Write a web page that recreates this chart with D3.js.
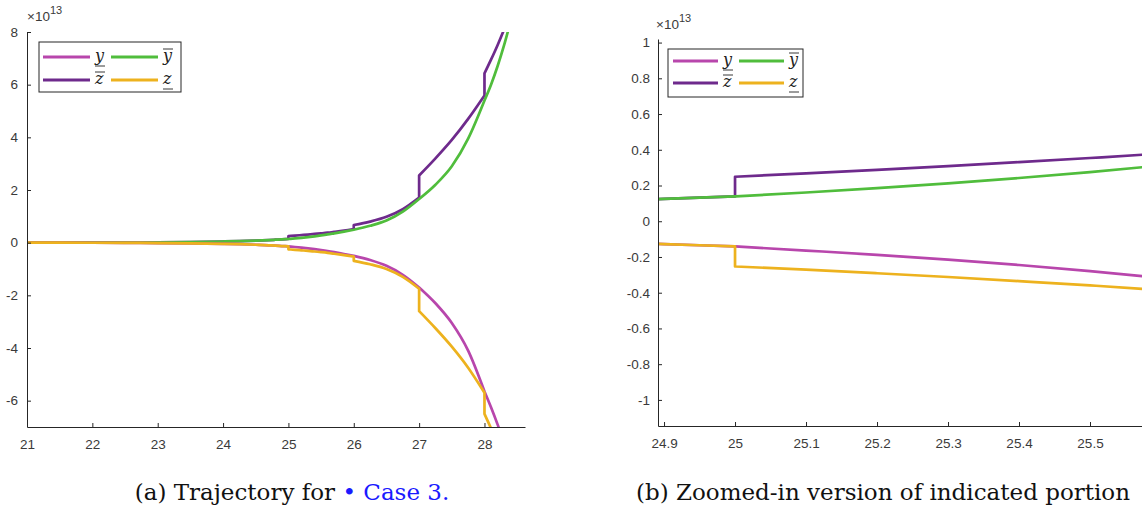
<!DOCTYPE html>
<html>
<head>
<meta charset="utf-8">
<title>trajectory_case3</title>
<script src="https://cdn.jsdelivr.net/npm/d3@7/dist/d3.min.js"></script>
<style>
  body { margin:0; background:#fff; }
  .tick text { font-family: "Liberation Sans", Arial, sans-serif; font-size: 13.5px; fill: #3a3a3a; }
  .domain, .tick line { stroke: #262626; }
  .curve { fill: none; stroke-width: 2.7px; stroke-linejoin: round; }
  .leg_box { fill: #fff; stroke: #262626; stroke-width: 1px; }
  .leg_line { stroke-width: 2.8px; }
  .leg_text { font-family: "DejaVu Serif", serif; font-style: italic; font-size: 16px; fill: #222; }
  .leg_bar { stroke: #222; stroke-width: 0.9px; }
  .expo { font-family: "Liberation Sans", Arial, sans-serif; font-size: 13.5px; fill: #3a3a3a; }
  .caption { font-family: "DejaVu Serif", serif; font-size: 23px; fill: #111; }
</style>
</head>
<body>
<div id="chart"></div>
<script>
// data, units of 1e13 (a repeated time marks a jump)
var time  = [21,21.5,22,22.5,23,23.5,24,24.25,24.5,24.7,24.8,24.9,25,25,25.1,25.2,25.3,25.4,25.5,25.6,25.7,25.85,26,26,26.25,26.5,26.75,27,27,27.25,27.5,27.75,28,28,28.1,28.2,28.3,28.4,28.5];
var yUp   = [0.001,0.002,0.004,0.008,0.014,0.025,0.045,0.059,0.08,0.1,0.112,0.125,0.139,0.139,0.161,0.185,0.212,0.242,0.275,0.312,0.355,0.42,0.49,0.49,0.64,0.84,1.18,1.66,1.66,2.2,2.9,3.95,5.4,5.4,6.0,6.7,7.5,8.4,9.3];
var zUp   = [0.001,0.002,0.004,0.008,0.014,0.025,0.045,0.059,0.08,0.1,0.112,0.125,0.139,0.249,0.268,0.288,0.309,0.331,0.354,0.379,0.41,0.46,0.52,0.67,0.8,0.98,1.27,1.71,2.55,3.2,3.9,4.7,5.59,6.43,6.95,7.5,8.1,8.8,9.6];
var yLow  = [-0.001,-0.002,-0.004,-0.008,-0.014,-0.025,-0.045,-0.059,-0.08,-0.1,-0.115,-0.128,-0.141,-0.141,-0.164,-0.188,-0.215,-0.245,-0.279,-0.317,-0.36,-0.43,-0.5,-0.5,-0.66,-0.88,-1.22,-1.7,-1.7,-2.3,-3.05,-4.1,-5.65,-5.65,-6.25,-6.9,-7.6,-8.4,-9.3];
var zLow  = [-0.001,-0.002,-0.004,-0.008,-0.014,-0.025,-0.045,-0.059,-0.08,-0.1,-0.115,-0.128,-0.141,-0.253,-0.271,-0.291,-0.312,-0.335,-0.359,-0.386,-0.42,-0.475,-0.53,-0.69,-0.82,-1.0,-1.3,-1.75,-2.6,-3.25,-3.95,-4.75,-5.7,-6.5,-7.05,-7.6,-8.2,-8.8,-9.5];

var ticksA_x = [21,22,23,24,25,26,27,28];
var ticksA_y = [-6,-4,-2,0,2,4,6,8];
var ticksB_x = [24.9,25,25.1,25.2,25.3,25.4,25.5];
var ticksB_y = [-1,-0.8,-0.6,-0.4,-0.2,0,0.2,0.4,0.6,0.8,1];

// draw order: zbar, ybar, y_, z_
var series = [
  {name:"zUp",  vals:zUp,  color:"#6E2A8C"},
  {name:"yUp",  vals:yUp,  color:"#50BD3C"},
  {name:"yLow", vals:yLow, color:"#B846AC"},
  {name:"zLow", vals:zLow, color:"#EDB21E"}
];
// legend: row-wise, 2 columns
var legendItems = [
  {name:"yLow", letter:"y", mark:"under"},
  {name:"yUp",  letter:"y", mark:"over"},
  {name:"zUp",  letter:"z", mark:"over"},
  {name:"zLow", letter:"z", mark:"under"}
];

var width = 1142, height = 512;
var svg = d3.select("#chart").append("svg")
  .attr("width", width).attr("height", height);

var panels = [
  {id:"a", xd:[21,28.62], xr:[27,525], yd:[-7,8], yr:[427,32], tx:ticksA_x, ty:ticksA_y, ypad:9,
   expo:[27,21], leg:{x:39,y:42,w:142,h:50,row:[57,80],col:[43,111],len:47}},
  {id:"b", xd:[24.8915,25.65], xr:[658,1196.5], yd:[-1.146,1.02], yr:[426,39], tx:ticksB_x, ty:ticksB_y, ypad:8,
   expo:[656,29], leg:{x:668,y:49,w:135,h:48,row:[61,83],col:[673,739],len:45}}
];

function fmt(d){ return String(+d.toFixed(1)); }

// split a series into smooth runs at the jump times
function runs(vals){
  var pts = d3.zip(time, vals), out = [[pts[0]]];
  for (var i = 1; i < pts.length; i++) {
    if (pts[i][0] == pts[i-1][0]) out.push([]);
    out[out.length-1].push(pts[i]);
  }
  return out;
}

panels.forEach(function(p){
  var x = d3.scaleLinear().domain(p.xd).range(p.xr);
  var y = d3.scaleLinear().domain(p.yd).range(p.yr);
  var g = svg.append("g").attr("class","panel_" + p.id);

  g.append("clipPath").attr("id","clip_" + p.id)
    .append("rect")
    .attr("x", p.xr[0]).attr("y", p.yr[1])
    .attr("width", p.xr[1] - p.xr[0]).attr("height", p.yr[0] - p.yr[1]);

  var line = d3.line()
    .x(function(d){return x(d[0]);})
    .y(function(d){return y(d[1]);})
    .curve(d3.curveMonotoneX);

  g.append("g").attr("clip-path","url(#clip_" + p.id + ")")
    .selectAll("path")
    .data(series)
    .enter()
    .append("path")
    .attr("class","curve")
    .attr("stroke", function(d){return d.color;})
    .attr("d", function(d){
      return runs(d.vals).map(function(r, i){
        var s = line(r);
        return i ? "L" + s.slice(1) : s;   // join the runs with a vertical step
      }).join("");
    });

  g.append("g")
    .attr("transform","translate(0," + p.yr[0] + ")")
    .call(d3.axisBottom(x).tickValues(p.tx).tickFormat(fmt).tickSizeInner(-4).tickSizeOuter(0).tickPadding(12));

  g.append("g")
    .attr("transform","translate(" + p.xr[0] + ",0)")
    .call(d3.axisLeft(y).tickValues(p.ty).tickFormat(fmt).tickSizeInner(-4).tickSizeOuter(0).tickPadding(p.ypad));

  // x10^13 multiplier
  var ex = g.append("text").attr("class","expo")
    .attr("x", p.expo[0]).attr("y", p.expo[1]);
  ex.append("tspan").text("\u00d710");
  ex.append("tspan").attr("dy",-7).style("font-size","11px").text("13");

  // legend
  var L = p.leg;
  var lg = g.append("g").attr("class","legend");
  lg.append("rect").attr("class","leg_box")
    .attr("x", L.x).attr("y", L.y).attr("width", L.w).attr("height", L.h);
  legendItems.forEach(function(it, i){
    var s = series.filter(function(d){return d.name == it.name;})[0];
    var cy = L.row[Math.floor(i/2)], cx = L.col[i%2];
    lg.append("line").attr("class","leg_line")
      .attr("x1", cx).attr("x2", cx + L.len).attr("y1", cy).attr("y2", cy)
      .attr("stroke", s.color);
    var tx = cx + L.len + 5;
    lg.append("text").attr("class","leg_text")
      .attr("x", tx).attr("y", cy + 4).text(it.letter);
    var by = it.mark == "over" ? cy - 8 : cy + 9;
    lg.append("line").attr("class","leg_bar")
      .attr("x1", tx).attr("x2", tx + 10).attr("y1", by).attr("y2", by);
  });
});

// captions
var capA = svg.append("text").attr("class","caption")
  .attr("x", 292).attr("y", 500).attr("text-anchor","middle");
capA.append("tspan").text("(a) Trajectory for ");
capA.append("tspan").attr("fill","#1a1aff").text("\u2022 Case 3.");

svg.append("text").attr("class","caption")
  .attr("x", 636).attr("y", 500)
  .text("(b) Zoomed-in version of indicated portion");
</script>
</body>
</html>
